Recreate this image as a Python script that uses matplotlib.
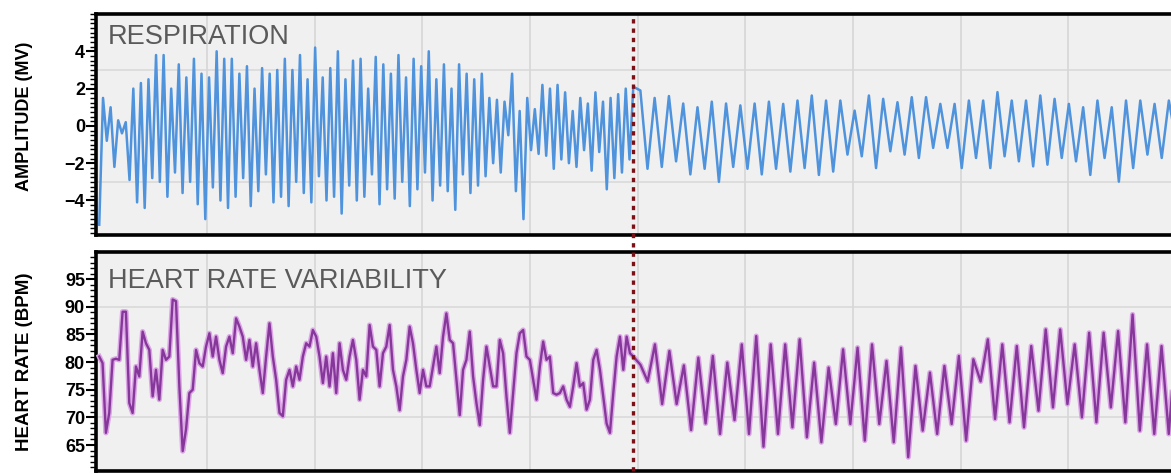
import numpy as np
from matplotlib import pyplot as plt
from matplotlib.ticker import MultipleLocator
from matplotlib.lines import Line2D
import matplotlib.transforms as mtransforms

plt.rcParams.update({"font.family": "Liberation Sans"})

# respiration amplitude (mV): successive extremes
resp_before = [-5.3, 1.5, -0.8, 1.0, -2.2, 0.3, -0.4, 0.2, -2.9, 2.0, -4.1, 2.3, -4.4, 2.5, -2.8,
               3.8, -3.0, 3.8, -3.8, 2.0, -2.5,
               3.3, -3.6, 2.6, -3.0, 3.6, -4.2, 2.8, -5.0, 2.6, -3.3, 4.0, -4.0, 3.6, -4.4,
               3.6, -3.8, 2.8, -2.8, 3.2, -4.3,
               2.0, -3.5, 3.1, -2.6, 2.8, -4.1, 3.0, -3.8, 3.6, -4.3, 3.0, -3.0, 3.8, -3.6,
               2.5, -4.1, 4.2, -2.7, 2.6, -4.0,
               3.1, -3.8, 4.0, -4.7, 2.5, -3.2, 3.5, -4.0, 3.6, -3.8, 2.0, -2.6, 3.7, -4.2,
               3.3, -3.4, 2.8, -3.9, 3.8, -3.0,
               2.6, -4.3, 3.6, -3.4, 3.2, -2.5, 4.0, -4.0, 2.5, -3.2, 3.3, -3.5, 2.0, -4.5,
               3.3, -2.6, 2.8, -3.6, 2.5, -3.2,
               2.8, -2.7, 1.5, -2.0, 1.4, -2.5, 1.3, -0.5, 2.8, -3.5, 0.8, -5.0, 1.5, -1.3,
               0.9, -1.5, 2.2, -1.6, 2.0, -2.3,
               2.2, -1.8, 1.8, -2.0, 0.8, -2.2, 1.5, -1.3, 1.2, -2.4, 1.8, -1.4, 1.3, -3.4,
               1.5, -2.8, 1.7, -2.5, 2.0, -1.8, 2.1]
resp_after = [1.9, -2.3, 1.5, -2.2, 1.6, -1.9, 1.2, -2.6, 1.0, -2.3, 1.3, -3.0, 1.2, -2.2,
              1.1, -2.3, 1.2, -2.6, 1.3, -2.3,
              1.18, -2.45, 1.36, -2.26, 1.63, -2.63, 1.36, -2.45, 1.36, -1.54, 0.82, -1.63,
              1.63, -2.26, 1.45, -1.36, 1.27, -1.54, 1.54, -1.72, 1.54, -1.18, 1.18, -1.18,
              1.18, -2.26, 1.36, -1.72, 1.36, -2.26, 1.81, -1.63, 1.36, -1.9, 1.36, -2.17,
              1.63, -2.08, 1.45, -1.72, 1.18, -1.9, 1.0, -2.63, 1.36, -1.72, 1.0, -2.99,
              1.36, -2.26, 1.36, -1.54, 1.18, -1.72, 1.36, -0.8]

# heart rate (bpm)
hr_before = [81.0, 79.8, 67.2, 70.8, 80.4, 80.6, 80.4, 89.1, 89.1, 72.6, 70.8, 79.2, 77.4, 85.5,
             83.4, 82.2, 73.8, 78.6, 73.2, 82.2, 80.4, 81.0, 91.3, 91.0, 75.6, 63.9, 67.8,
             74.4, 75.0, 82.2, 79.8, 79.2, 82.8, 85.2, 81.0, 84.6, 80.4, 78.0, 82.8, 84.6,
             81.6, 87.9, 86.4, 84.6, 80.4, 84.0, 79.2, 83.4, 78.6, 74.4, 81.0, 87.0, 81.0,
             76.8, 70.8, 70.2, 76.8, 78.6, 75.6, 79.2, 76.8, 81.0, 83.4, 82.8, 85.8, 84.6,
             81.0, 76.2, 81.0, 75.6, 81.6, 74.4, 83.4, 78.6, 76.8, 81.0, 84.0, 80.4, 73.2,
             78.6,
             77.4, 86.7, 82.8, 82.2, 75.6, 81.6, 82.8, 86.7, 78.6, 75.6, 71.3, 77.4, 80.4,
             86.4, 83.4, 78.6, 74.4, 78.6, 75.6, 75.6, 79.2, 82.8, 78.0, 84.6, 88.8, 84.0,
             83.4, 76.8, 70.4, 78.6, 80.4, 85.5, 77.4, 72.6, 68.6, 76.8, 82.8, 79.2, 75.6,
             75.6, 84.0, 81.6, 73.8, 67.2, 74.4, 81.6, 85.2, 85.8, 81.0, 80.4, 76.8, 73.2,
             79.2, 83.7, 80.4, 81.0, 74.4, 74.1, 74.4, 75.6, 73.2, 71.9, 75.6, 79.8, 75.6,
             76.2, 71.4, 73.2, 80.4, 82.2, 78.6, 73.8, 68.9, 67.2, 74.4, 81.0, 84.6, 78.6,
             84.6, 81.6, 81.0]
hr_after = [79.5, 76.5, 83.2, 72.4, 82.0, 72.4, 79.4, 67.7, 80.8, 68.9, 81.1, 67.0, 79.9, 69.5,
            83.2, 67.0, 84.7, 64.7, 83.2, 67.0,
            83.2, 68.2, 84.1, 66.4, 79.9, 65.5, 79.0, 68.8, 82.3, 68.8, 82.6, 65.8, 83.2,
            68.8, 80.2, 65.5, 82.6, 62.8, 79.3, 67.6, 78.1, 67.0, 79.3, 68.8, 81.1, 65.8,
            80.5, 76.5, 84.1, 69.7, 83.2, 69.1, 82.9, 68.2, 82.9, 71.2, 85.9, 71.8, 85.9,
            72.4, 83.2, 70.0, 85.3, 69.1, 85.3, 71.8, 85.6, 69.1, 88.6, 67.6, 83.2, 67.0,
            82.9, 67.0, 83.8]

event_t = 4.96   # dotted marker
t_end = 10.0

def time_axis(before, after):
    t1 = np.linspace(0.0, event_t, len(before))
    t2 = np.linspace(event_t + (t_end - event_t) / (len(after) + 1), t_end, len(after))
    return np.concatenate([t1, t2]), np.array(before + after)

t_resp, resp = time_axis(resp_before, resp_after)
t_hr, hr = time_axis(hr_before, hr_after)

W, H = 1171, 474
fig = plt.figure(figsize=(W / 100, H / 100), dpi=100)
ax1 = fig.add_axes([96 / W, 1 - 235 / H, 1080 / W, 221 / H])
ax2 = fig.add_axes([96 / W, 1 - 471 / H, 1080 / W, 219 / H])

ax1.plot(t_resp, resp, color="#4f93dd", lw=1.8, zorder=3, solid_joinstyle="round")
ax2.plot(t_hr, hr, color="#dca6e6", lw=3.8, zorder=3, solid_joinstyle="round")
ax2.plot(t_hr, hr, color="#86389a", lw=1.7, zorder=4, solid_joinstyle="round")

ax1.set_ylim(-5.85, 6.0)
ax2.set_ylim(60.3, 99.9)
ax1.set_yticks([-4, -2, 0, 2, 4])
ax1.yaxis.set_minor_locator(MultipleLocator(0.25))
ax2.set_yticks([65, 70, 75, 80, 85, 90, 95])
ax2.yaxis.set_minor_locator(MultipleLocator(1))

for ax, hgrid in ((ax1, [-3, 3]), (ax2, [70, 90])):
    ax.set_xlim(-0.03, 10.0)
    ax.set_facecolor("#f0f0f0")
    ax.set_xticks(np.arange(1, 10))
    ax.grid(axis="x", color="#d6d6d6", lw=1.2, zorder=0)
    for h in hgrid:
        ax.axhline(h, color="#dadada", lw=1.2, zorder=1)
    ax.tick_params(axis="x", length=0, labelbottom=False)
    ax.tick_params(axis="y", which="major", direction="out", length=7, width=1.5, pad=1,
                   labelsize=13)
    ax.tick_params(axis="y", which="minor", direction="out", length=4, width=1)
    for lab in ax.get_yticklabels():
        lab.set_fontweight("bold")
    for s in ax.spines.values():
        s.set_linewidth(2.6)
        s.set_color("black")

ax1.set_ylabel("AMPLITUDE (MV)", fontsize=13, fontweight="bold")
ax2.set_ylabel("HEART RATE (BPM)", fontsize=13.5, fontweight="bold")
ax1.yaxis.set_label_coords(-0.058, 0.538)
ax2.yaxis.set_label_coords(-0.058, 0.5)

ax1.text(0.011, 0.955, "RESPIRATION", transform=ax1.transAxes, fontsize=19.5,
         color="#5a5a5a", va="top", ha="left")
ax2.text(0.011, 0.927, "HEART RATE VARIABILITY", transform=ax2.transAxes, fontsize=19.5,
         color="#5a5a5a", va="top", ha="left")

# dotted event marker running through both panels
trans = mtransforms.blended_transform_factory(ax1.transData, fig.transFigure)
fig.add_artist(Line2D([event_t, event_t], [1 - 471 / H, 1 - 14 / H], transform=trans,
                      color="#7b1016", lw=2.4, linestyle=(0, (1.3, 1.5)), zorder=10))

plt.savefig("out.png", dpi=100)
